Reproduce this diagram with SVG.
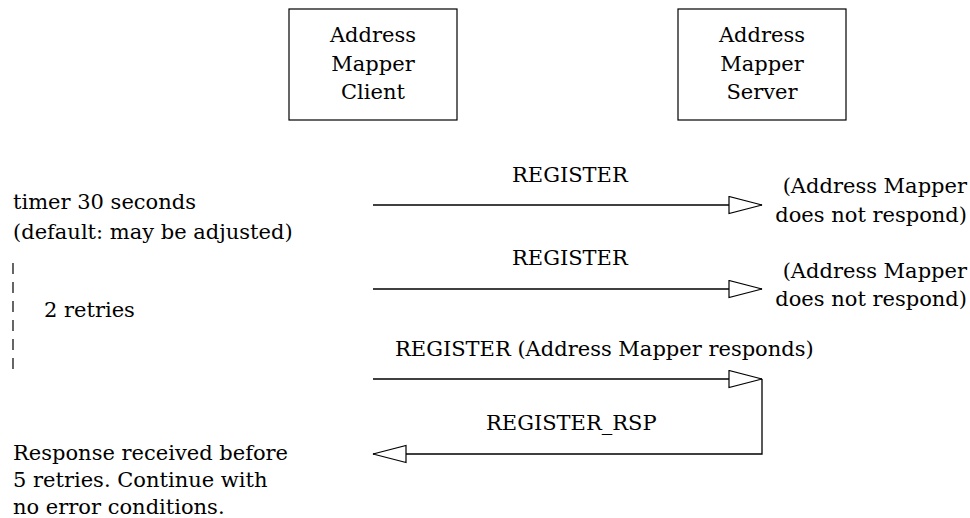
<svg xmlns="http://www.w3.org/2000/svg" width="970" height="518" viewBox="0 0 970 518">
<style>
  .t { font-family: "DejaVu Serif", "Liberation Serif", serif; font-size: 21px; fill: #000; }
  .m { text-anchor: middle; }
  .e { text-anchor: end; }
  .box { fill: #fff; stroke: #000; stroke-width: 1.2; }
  .ln { fill: none; stroke: #000; stroke-width: 1.3; }
  .dash { fill: none; stroke: #000; stroke-width: 1.2; stroke-dasharray: 11 8; }
</style>
<defs>
  <marker id="open" markerUnits="userSpaceOnUse" markerWidth="36" markerHeight="20" refX="33" refY="8.5" orient="auto" viewBox="-1 -1 36 20">
    <path d="M0,0 L33,8.5 L0,17 Z" fill="#fff" stroke="#000" stroke-width="1.2"/>
  </marker>
</defs>
<rect width="970" height="518" fill="#fff"/>
<g id="client">
  <rect class="box" x="289" y="9" width="168" height="111"/>
  <text class="t m" x="373" y="42">Address</text>
  <text class="t m" x="373" y="71">Mapper</text>
  <text class="t m" x="373" y="99">Client</text>
</g>
<g id="server">
  <rect class="box" x="678" y="9" width="168" height="111"/>
  <text class="t m" x="762" y="42">Address</text>
  <text class="t m" x="762" y="71">Mapper</text>
  <text class="t m" x="762" y="99">Server</text>
</g>
<g id="connectors">
  <line class="ln" x1="373" y1="205" x2="762" y2="205" marker-end="url(#open)"/>
  <line class="ln" x1="373" y1="289" x2="762" y2="289" marker-end="url(#open)"/>
  <line class="ln" x1="373" y1="379" x2="762" y2="379" marker-end="url(#open)"/>
  <path class="ln" d="M762,379 V454 H373" marker-end="url(#open)"/>
  <line class="dash" x1="13" y1="263" x2="13" y2="370"/>
</g>
<g id="labels">
  <text class="t" x="512" y="182">REGISTER</text>
  <text class="t" x="512" y="265">REGISTER</text>
  <text class="t" x="395" y="356">REGISTER (Address Mapper responds)</text>
  <text class="t" x="486" y="430">REGISTER_RSP</text>
  <text class="t e" x="967" y="193">(Address Mapper</text>
  <text class="t e" x="967" y="222">does not respond)</text>
  <text class="t e" x="967" y="278">(Address Mapper</text>
  <text class="t e" x="967" y="306">does not respond)</text>
  <text class="t" x="13" y="209">timer 30 seconds</text>
  <text class="t" x="13" y="239">(default: may be adjusted)</text>
  <text class="t" x="44" y="317">2 retries</text>
  <text class="t" x="13" y="460">Response received before</text>
  <text class="t" x="13" y="487">5 retries. Continue with</text>
  <text class="t" x="13" y="514">no error conditions.</text>
</g>
</svg>
